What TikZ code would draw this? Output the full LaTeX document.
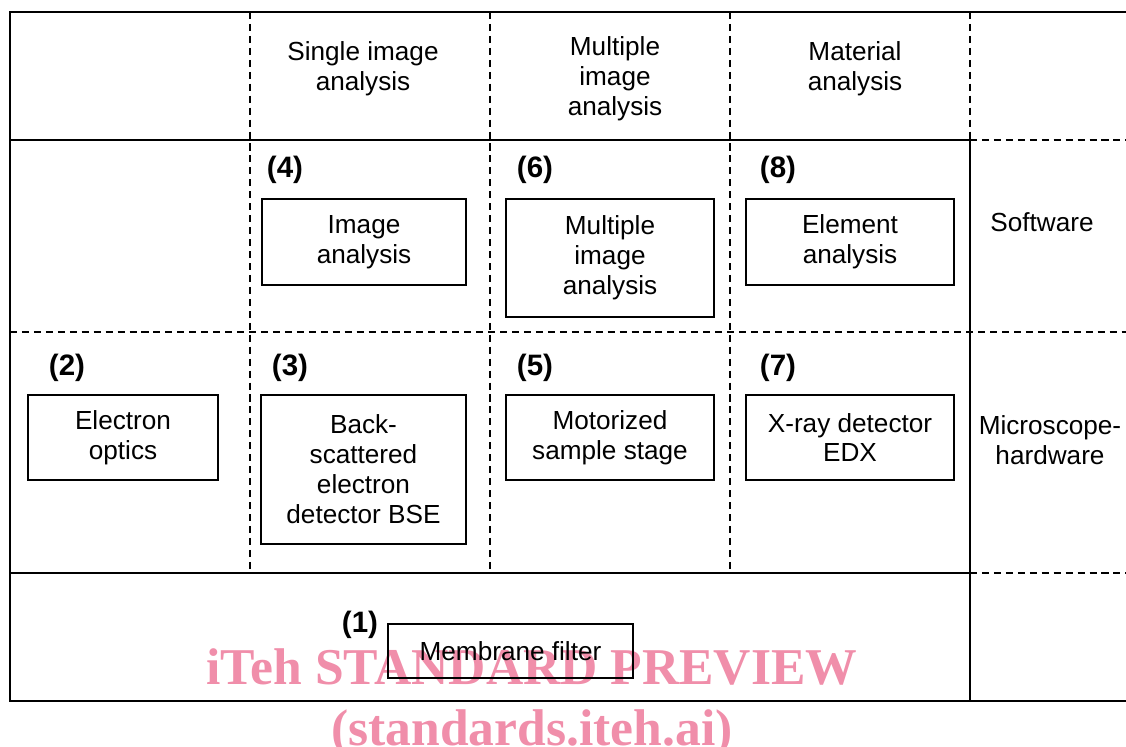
\documentclass[tikz,border=0pt]{standalone}
\usepackage{fontspec}
\setmainfont{Liberation Sans}
\newfontfamily\markfont{Liberation Serif}
\definecolor{markpink}{RGB}{240,142,170}

\begin{document}
\begin{tikzpicture}[x=0.025cm,y=-0.025cm,
	frame/.style={line width=1.4pt},
	grid/.style={line width=1.1pt,dash pattern=on 5pt off 3.5pt},
	unit/.style={draw,line width=1pt,align=center,inner sep=0pt,font=\fontsize{18.6}{21.3}\selectfont},
	tag/.style={font=\fontsize{21}{24}\selectfont\bfseries},
	head/.style={align=center,font=\fontsize{18.6}{21.3}\selectfont},
	stampmark/.style={anchor=base,text=markpink,font=\fontsize{36.7}{40}\selectfont\markfont\bfseries}]
	\useasboundingbox (0,0) rectangle (1126,746);

	% watermark
	\node[stampmark] (wm1) at (532,684) {iTeh STANDARD PREVIEW};
	\node[stampmark] (wm2) at (532,745) {(standards.iteh.ai)};

	% table
	\draw[frame] (1126,12) -- (10,12) -- (10,701) -- (1126,701);
	\draw[frame] (10,140) -- (970,140);
	\draw[frame] (10,573) -- (970,573);
	\draw[frame] (970,140) -- (970,701);
	\draw[grid] (970,140) -- (1126,140);
	\draw[grid] (10,332) -- (1126,332);
	\draw[grid] (970,573) -- (1126,573);
	\draw[grid] (970,12) -- (970,140);
	\foreach \x in {250,490,730}
		\draw[grid] (\x,12) -- (\x,573);

	% column and row heads
	\node[head] (single) at (363,69) {Single image\\analysis};
	\node[head] (multiple) at (615,79) {Multiple\\image\\analysis};
	\node[head] (material) at (855,69) {Material\\analysis};
	\node[head] (software) at (1042,222) {Software};
	\node[head] (hardware) at (1050,440) {Microscope-\\hardware};

	% software
	\node[unit,minimum width=5.1cm,minimum height=2.15cm] (imgan) at (364,242) {Image\\analysis};
	\node[unit,minimum width=5.2cm,minimum height=2.95cm] (multan) at (610,258) {Multiple\\image\\analysis};
	\node[unit,minimum width=5.2cm,minimum height=2.15cm] (element) at (850,242) {Element\\analysis};

	% hardware
	\node[unit,minimum width=4.75cm,minimum height=2.125cm] (optics) at (123,437.5) {Electron\\optics};
	\node[unit,minimum width=5.125cm,minimum height=3.725cm] (bse) at (363.5,469.5) {Back-\\scattered\\electron\\detector BSE};
	\node[unit,minimum width=5.2cm,minimum height=2.125cm] (stage) at (610,437.5) {Motorized\\sample stage};
	\node[unit,minimum width=5.2cm,minimum height=2.125cm] (edx) at (850,437.5) {X-ray detector\\EDX};
	\node[unit,minimum width=6.125cm,minimum height=1.35cm] (filter) at (510.5,651) {Membrane filter};

	% numbers
	\node[tag] (n1) at (360,625) {(1)};
	\node[tag] (n2) at (67,368) {(2)};
	\node[tag] (n3) at (290,368) {(3)};
	\node[tag] (n4) at (285,170) {(4)};
	\node[tag] (n5) at (535,368) {(5)};
	\node[tag] (n6) at (535,170) {(6)};
	\node[tag] (n7) at (778,368) {(7)};
	\node[tag] (n8) at (778,170) {(8)};
\end{tikzpicture}
\end{document}
